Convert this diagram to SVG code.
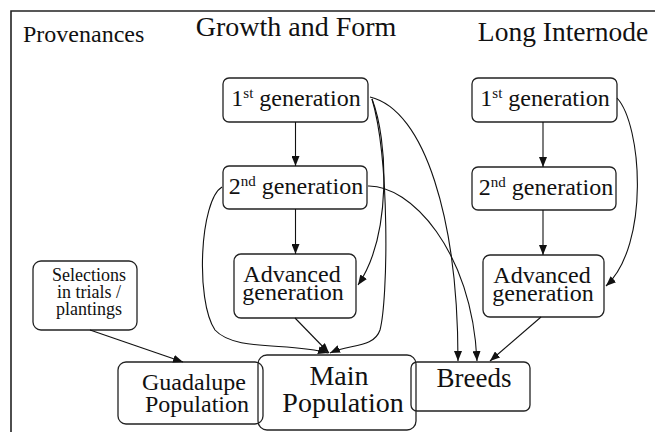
<svg xmlns="http://www.w3.org/2000/svg" width="655" height="432" viewBox="0 0 655 432">
<style>
.t{font-family:'Liberation Serif','DejaVu Serif','Times New Roman',serif;fill:#111;text-anchor:middle}
.box{fill:none;stroke:#222;stroke-width:1.3}
.c{fill:none;stroke:#111;stroke-width:1.1;marker-end:url(#ah)}
.sup{font-size:15px}
</style>
<defs>
<marker id="ah" markerWidth="10" markerHeight="8" refX="10" refY="4" orient="auto" markerUnits="userSpaceOnUse"><path d="M0,0 L10,4 L0,8 z" fill="#111"/></marker>
</defs>
<rect x="0" y="0" width="655" height="432" fill="#fff"/>
<path d="M11,432 L11,11 L655,11" fill="none" stroke="#222" stroke-width="1.6"/>
<g class="t">
<text x="23" y="42" font-size="24" text-anchor="start">Provenances</text>
<text x="296" y="36" font-size="28">Growth and Form</text>
<text x="563" y="41" font-size="27.5">Long Internode</text>
</g>
<g class="t">
<g id="gf1"><rect class="box" x="223" y="78" width="145" height="44" rx="6"/><text x="296" y="106" font-size="24">1<tspan class="sup" dy="-8">st</tspan><tspan dy="8"> generation</tspan></text></g>
<g id="gf2"><rect class="box" x="223" y="166" width="144" height="43" rx="6"/><text x="296" y="194" font-size="24">2<tspan class="sup" dy="-8">nd</tspan><tspan dy="8"> generation</tspan></text></g>
<g id="gfadv"><rect class="box" x="234" y="254" width="122" height="64" rx="7"/><text x="292" y="282" font-size="24">Advanced</text><text x="293" y="300" font-size="24">generation</text></g>
<g id="li1"><rect class="box" x="472" y="78" width="145" height="44" rx="6"/><text x="545" y="106" font-size="24">1<tspan class="sup" dy="-8">st</tspan><tspan dy="8"> generation</tspan></text></g>
<g id="li2"><rect class="box" x="472" y="167" width="144" height="43" rx="6"/><text x="546" y="195" font-size="24">2<tspan class="sup" dy="-8">nd</tspan><tspan dy="8"> generation</tspan></text></g>
<g id="liadv"><rect class="box" x="483" y="255" width="121" height="62" rx="7"/><text x="542" y="283" font-size="24">Advanced</text><text x="543" y="301" font-size="24">generation</text></g>
<g id="sel"><rect class="box" x="33" y="261" width="104" height="69" rx="8"/><text x="89" y="281" font-size="18">Selections</text><text x="89" y="298" font-size="18">in trials /</text><text x="89" y="315" font-size="18">plantings</text></g>
<g id="guad"><rect class="box" x="118" y="362" width="145" height="62" rx="8"/><text x="194" y="390" font-size="24">Guadalupe</text><text x="197" y="412" font-size="24">Population</text></g>
<g id="main"><rect class="box" x="258" y="355" width="158" height="75" rx="9"/><text x="339" y="385" font-size="28">Main</text><text x="343" y="412" font-size="28">Population</text></g>
<g id="breeds"><rect class="box" x="411" y="362" width="119" height="49" rx="6"/><text x="474" y="387" font-size="27">Breeds</text></g>
</g>
<g id="connectors">
<path class="c" d="M295.5,122 L295.5,166"/>
<path class="c" d="M295.5,209 L295.5,254"/>
<path class="c" d="M543,122 L543,167"/>
<path class="c" d="M543,210 L543,255"/>
<path class="c" d="M295,318 L329,353"/>
<path class="c" d="M90,330 L183,362"/>
<path class="c" d="M541,317 L490,361"/>
<path class="c" d="M370,97 C425,110 458,220 458,361"/>
<path class="c" d="M368,186 C410,185 472,250 477,361"/>
<path class="c" d="M372,99 C388,140 392,235 358,285"/>
<path class="c" d="M372,99 C390,160 388,300 380,330 C374,348 350,344 330,353"/>
<path class="c" d="M222,187 C200,200 195,300 215,330 C235,352 290,342 328,353"/>
<path class="c" d="M617,98 C642,125 650,245 606,286"/>
</g>
</svg>
